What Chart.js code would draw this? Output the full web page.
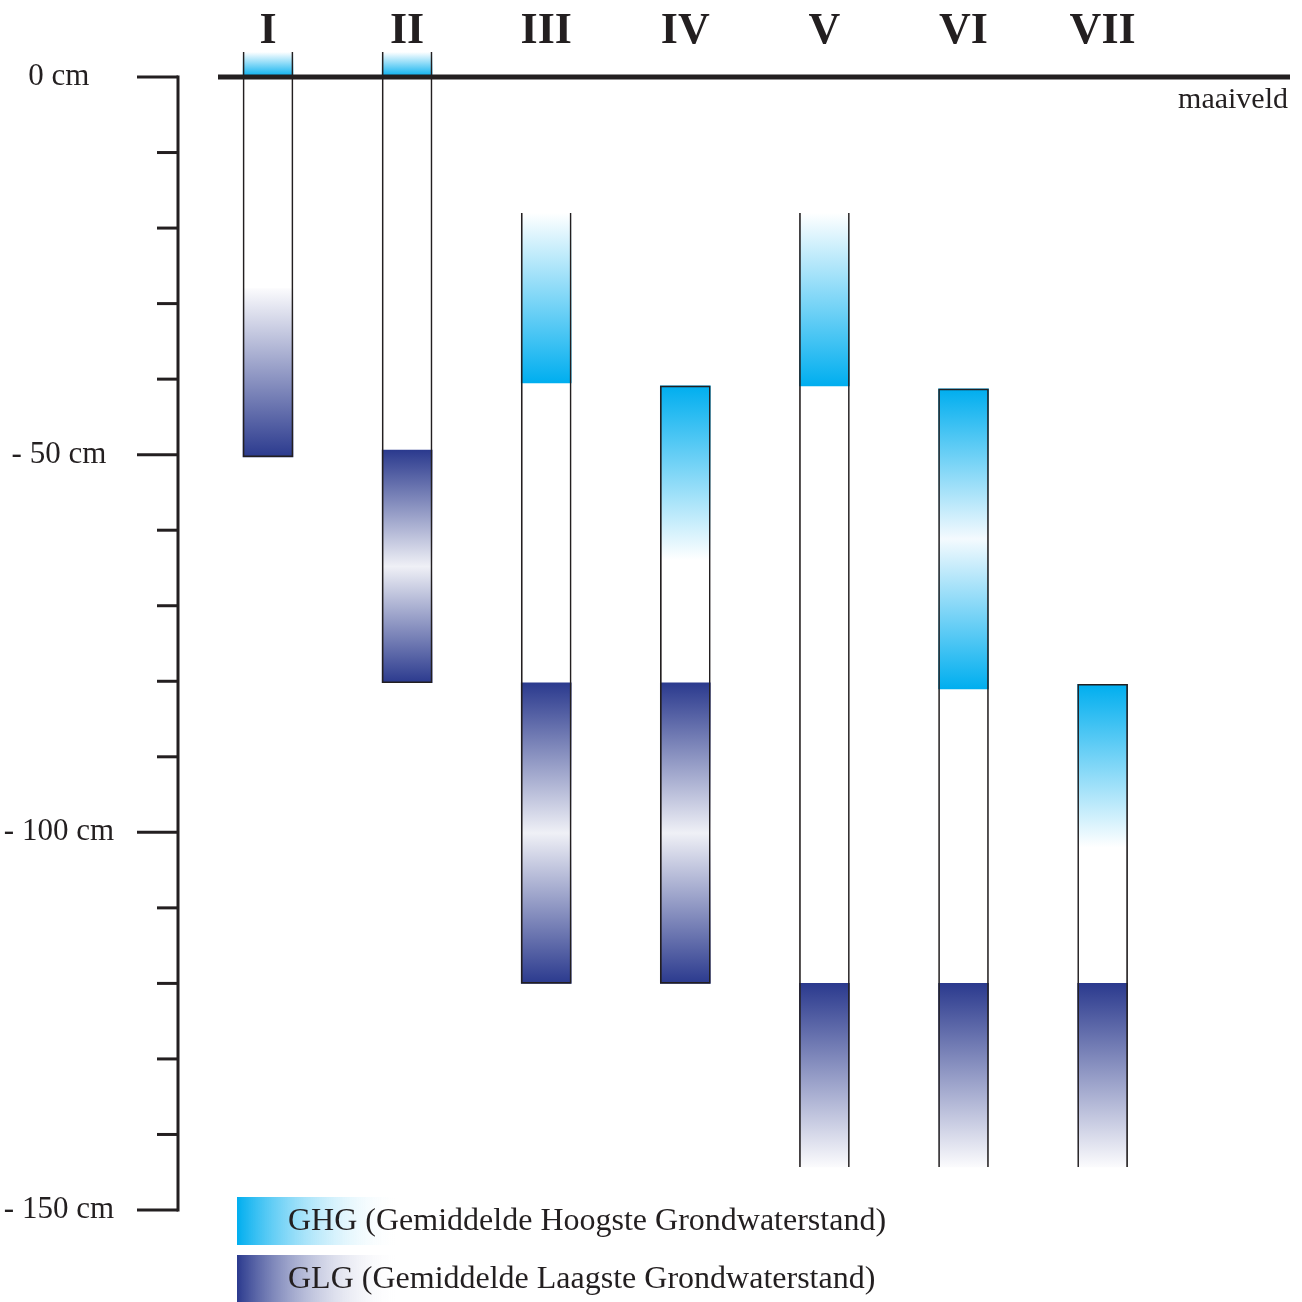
<!DOCTYPE html>
<html>
<head>
<meta charset="utf-8">
<title>Grondwatertrappen</title>
<script src="https://cdn.jsdelivr.net/npm/chart.js@4.4.1/dist/chart.umd.min.js"></script>
<style>
  html, body { margin: 0; padding: 0; background: #fff; }
  #wrap { width: 1302px; height: 1302px; position: relative; }
</style>
</head>
<body>
<div id="wrap"><canvas id="gwt"></canvas></div>
<script>
// Grondwatertrappen I t/m VII, diepte in cm t.o.v. maaiveld
const categories = ['I', 'II', 'III', 'IV', 'V', 'VI', 'VII'];
const columnTop = [3.3, 3.3, -18, -40.9, -18, -41.3, -80.4];
const columnBottom = [-50.3, -80.2, -120, -120, -144.3, -144.3, -144.3];
const ghgTop = [3.3, 3.3, -18, -40.9, -18, -41.3, -80.4];
const ghgBottom = [0, 0, -40.5, -64, -40.9, -81, -102];
const glgTop = [-28, -49.4, -80.2, -80.2, -120, -120, -120];
const glgBottom = [-50.3, -80.2, -120, -120, -144.3, -144.3, -144.3];
const majorTicks = [0, -50, -100, -150];

// stijl per kolom (waar de kleur zit in de verloop)
const ghgShape = ['up', 'up', 'up', 'down', 'up', 'ends', 'down'];
const glgShape = ['up', 'ends', 'ends', 'ends', 'down', 'down', 'down'];
const openTop = [true, true, true, false, true, false, false];
const openBottom = [false, false, false, false, true, true, true];

const INK = '#231f20';
const CYAN = '#00aeef';
const NAVY = '#2b3a8e';
const SERIF = "'Liberation Serif', 'DejaVu Serif', serif";

function verticalFade(color, light, mid, shapes) {
    return function (c) {
        const y = c.chart.scales.y;
        if (c.type !== 'data' || !y || !c.raw) return color;
        const lo = c.raw.y[0], hi = c.raw.y[1];
        const top = y.getPixelForValue(hi);
        const bottom = y.getPixelForValue(lo);
        if (!isFinite(top) || !isFinite(bottom) || top === bottom) return color;
        const g = c.chart.ctx.createLinearGradient(0, top, 0, bottom);
        const s = shapes[c.dataIndex];
        if (s === 'up') {
            g.addColorStop(0, light);
            g.addColorStop(1, color);
        } else if (s === 'down') {
            g.addColorStop(0, color);
            g.addColorStop(1, light);
        } else {
            g.addColorStop(0, color);
            g.addColorStop(0.5, mid);
            g.addColorStop(1, color);
        }
        return g;
    };
}

function floating(lows, highs) {
    return categories.map((c, i) => ({ x: i, y: [lows[i], highs[i]] }));
}

// assen, maaiveld en legenda
const groundPlugin = {
    id: 'groundPlugin',
    afterDatasetsDraw(chart) {
        const ctx = chart.ctx;
        const y = chart.scales.y;
        const area = chart.chartArea;
        const y0 = y.getPixelForValue(0);
        const yEnd = y.getPixelForValue(-150);
        ctx.save();
        ctx.strokeStyle = INK;
        ctx.lineCap = 'butt';

        // y-as
        ctx.lineWidth = 3;
        ctx.beginPath();
        ctx.moveTo(area.left, y0 - 1.5);
        ctx.lineTo(area.left, yEnd + 1.5);
        ctx.stroke();
        y.ticks.forEach(t => {
            const py = y.getPixelForValue(t.value);
            const len = majorTicks.includes(t.value) ? 41 : 21;
            ctx.beginPath();
            ctx.moveTo(area.left - len, py);
            ctx.lineTo(area.left, py);
            ctx.stroke();
        });

        // maaiveld
        ctx.lineWidth = 5;
        ctx.beginPath();
        ctx.moveTo(area.left + 40, y0);
        ctx.lineTo(area.right, y0);
        ctx.stroke();
        ctx.fillStyle = INK;
        ctx.font = '30px ' + SERIF;
        ctx.textAlign = 'right';
        ctx.textBaseline = 'alphabetic';
        ctx.fillText('maaiveld', area.right - 2, y0 + 31);

        // legenda
        const items = [
            { color: CYAN, text: 'GHG (Gemiddelde Hoogste Grondwaterstand)' },
            { color: NAVY, text: 'GLG (Gemiddelde Laagste Grondwaterstand)' }
        ];
        const lx = area.left + 59;
        let ly = area.bottom - 13;
        ctx.font = '32px ' + SERIF;
        ctx.textAlign = 'left';
        ctx.textBaseline = 'middle';
        items.forEach(item => {
            const g = ctx.createLinearGradient(lx, 0, lx + 163, 0);
            g.addColorStop(0, item.color);
            g.addColorStop(1, 'rgba(255,255,255,0)');
            ctx.fillStyle = g;
            ctx.fillRect(lx, ly, 163, 48);
            ctx.fillStyle = INK;
            ctx.fillText(item.text, lx + 51, ly + 25);
            ly += 58;
        });
        ctx.restore();
    }
};

const barCommon = { barThickness: 50, grouped: false, borderSkipped: false };

new Chart(document.getElementById('gwt'), {
    type: 'bar',
    data: {
        datasets: [
            Object.assign({
                label: 'kolom',
                data: floating(columnBottom, columnTop),
                backgroundColor: 'rgba(0,0,0,0)',
                borderColor: INK,
                borderWidth: c => {
                    const i = c.dataIndex;
                    if (i === undefined) return 1;
                    return { left: 1, right: 1, top: openTop[i] ? 0 : 1, bottom: openBottom[i] ? 0 : 1 };
                },
                order: 0
            }, barCommon),
            Object.assign({
                label: 'GHG',
                data: floating(ghgBottom, ghgTop),
                backgroundColor: verticalFade(CYAN, '#ffffff', '#f4fafe', ghgShape),
                borderWidth: 0,
                order: 1
            }, barCommon),
            Object.assign({
                label: 'GLG',
                data: floating(glgBottom, glgTop),
                backgroundColor: verticalFade(NAVY, '#fbfbfd', '#eff0f6', glgShape),
                borderWidth: 0,
                order: 2
            }, barCommon)
        ]
    },
    options: {
        responsive: true,
        maintainAspectRatio: false,
        animation: false,
        layout: { padding: { left: 0, right: 12, top: 0, bottom: 92 } },
        plugins: {
            legend: { display: false },
            tooltip: { enabled: false }
        },
        scales: {
            x: {
                type: 'linear',
                position: 'top',
                min: -0.647,
                max: 7.347,
                offset: false,
                grid: { display: false },
                border: { display: false },
                ticks: {
                    stepSize: 1,
                    includeBounds: false,
                    autoSkip: false,
                    maxRotation: 0,
                    padding: 0,
                    color: INK,
                    font: { family: SERIF, size: 44, weight: 'bold', lineHeight: 0.55 },
                    callback: v => categories[v] ?? ''
                },
                afterFit: s => { s.height = 52; }
            },
            y: {
                min: -150,
                max: 3.31,
                grid: { display: false },
                border: { display: false },
                ticks: {
                    stepSize: 10,
                    includeBounds: false,
                    autoSkip: false,
                    padding: 56,
                    crossAlign: 'center',
                    color: INK,
                    font: { family: SERIF, size: 31 },
                    callback: v => majorTicks.includes(v) ? (v === 0 ? '0 cm' : '- ' + (-v) + ' cm') : ''
                },
                afterFit: s => {
                    s.width = 178;
                    s.paddingTop = 0;
                    s.paddingBottom = 0;
                }
            }
        }
    },
    plugins: [groundPlugin]
});
</script>
</body>
</html>
